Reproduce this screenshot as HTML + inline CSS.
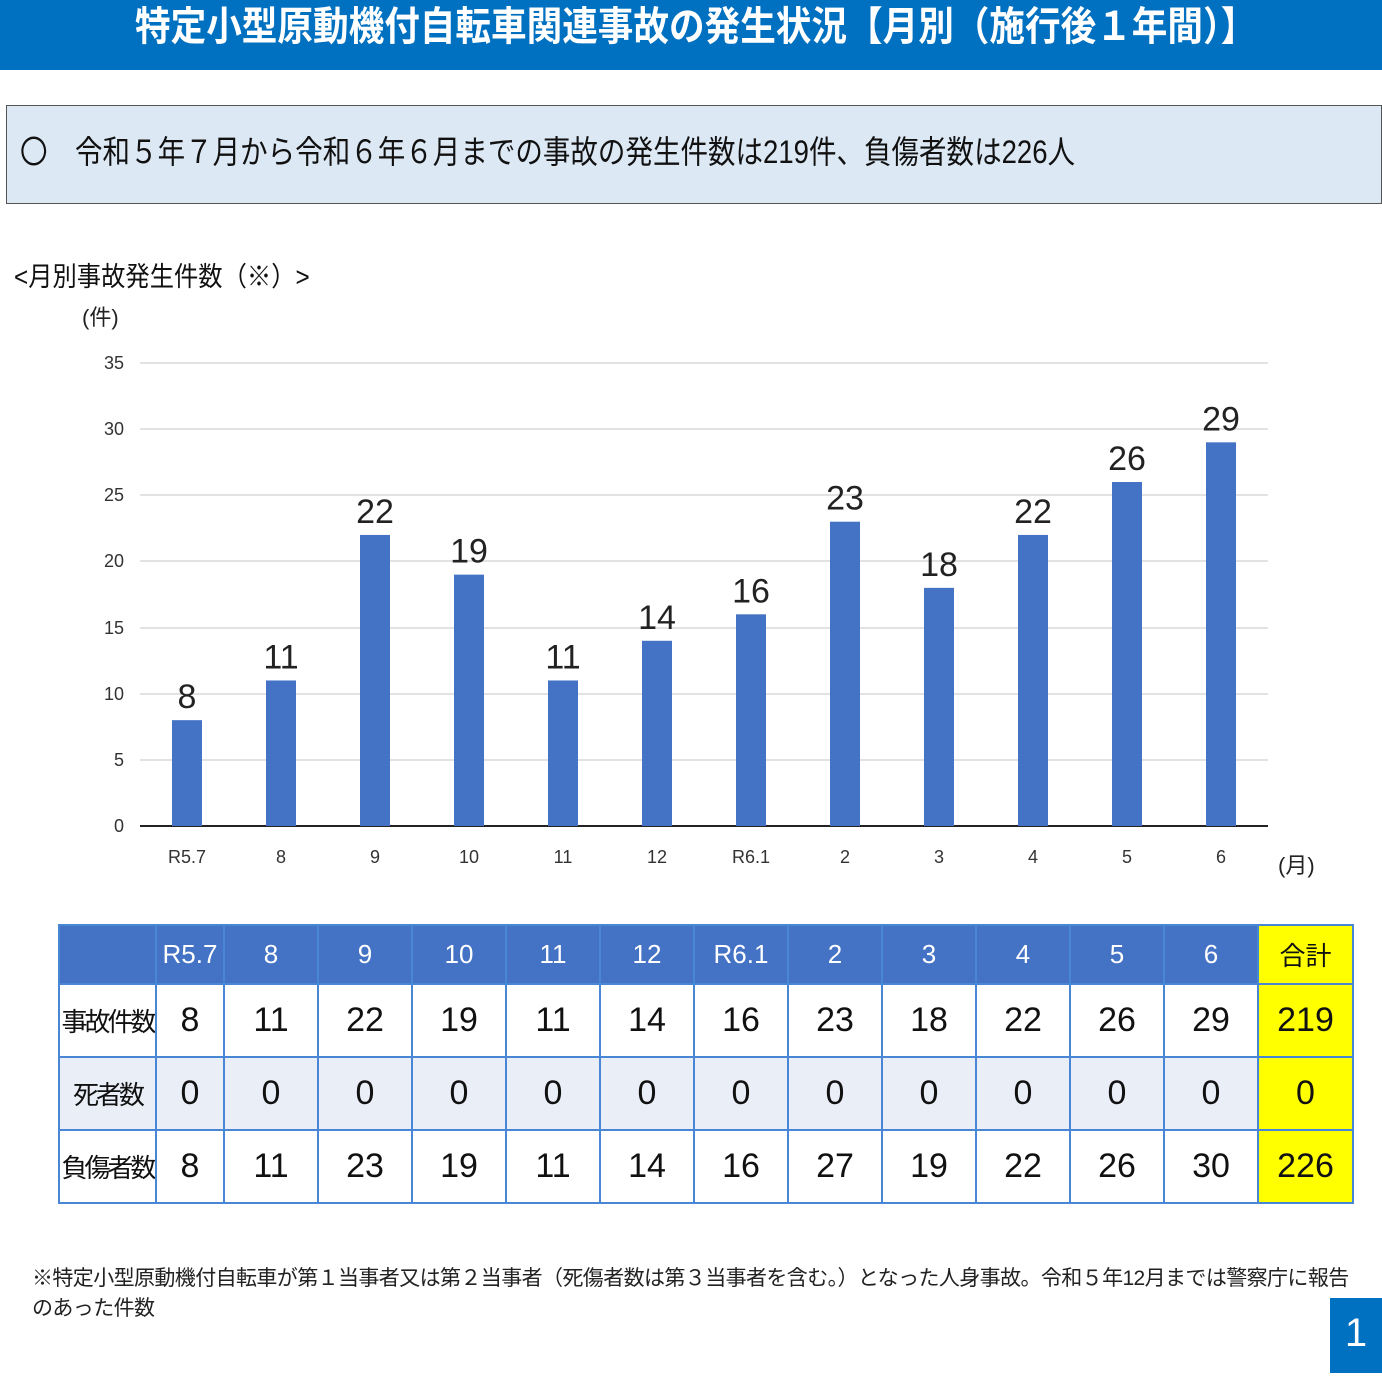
<!DOCTYPE html>
<html><head><meta charset="utf-8"><style>
body{margin:0;width:1382px;height:1382px;position:relative;background:#fff;font-family:"Liberation Sans","Noto Sans CJK JP",sans-serif;overflow:hidden}
.a{position:absolute}
table{position:absolute;left:58px;top:924px;border-collapse:collapse;table-layout:fixed}
td{border:2px solid #4a86d6;text-align:center;font-size:34px;color:#111;padding:0;white-space:nowrap;overflow:hidden}
tr.h td{background:#4472c4;color:#fff;font-size:26px;height:57px}
tr.r td{height:71px}
tr.g td{background:#e9eef7}
td.y{background:#ffff00!important;color:#111!important}
td.l{font-size:26px;letter-spacing:-3px}
</style></head><body>
<div class="a" style="left:0;top:0;width:1382px;height:70px;background:#0070c0"></div>
<div class="a" style="left:135px;top:2px;white-space:nowrap;color:#fff;font-size:40px;font-weight:bold;line-height:50px;transform:scaleX(0.89);transform-origin:left">特定小型原動機付自転車関連事故の発生状況【月別（施行後１年間）】</div>
<div class="a" style="left:6px;top:105px;width:1376px;height:99px;background:#dce8f4;border:1px solid #555;box-sizing:border-box"></div>
<div class="a" style="left:20px;top:130px;white-space:nowrap;font-size:32px;line-height:44px;color:#111;transform:scaleX(0.86);transform-origin:left">〇　令和５年７月から令和６年６月までの事故の発生件数は219件、負傷者数は226人</div>
<div class="a" style="left:14px;top:255px;white-space:nowrap;font-size:27px;color:#111;transform:scaleX(0.9);transform-origin:left">&lt;月別事故発生件数（※）&gt;</div>
<div class="a" style="left:82px;top:300px;font-size:22px;color:#222">(件)</div>
<div class="a" style="left:1278px;top:848px;font-size:22px;color:#222">(月)</div>
<svg class="a" style="left:0;top:0" width="1382" height="900">
<g stroke="#d9d9d9" stroke-width="1.5">
<line x1="140" x2="1268" y1="363" y2="363"/><line x1="140" x2="1268" y1="429" y2="429"/><line x1="140" x2="1268" y1="495" y2="495"/><line x1="140" x2="1268" y1="561" y2="561"/><line x1="140" x2="1268" y1="628" y2="628"/><line x1="140" x2="1268" y1="694" y2="694"/><line x1="140" x2="1268" y1="760" y2="760"/>
</g>
<line x1="140" x2="1268" y1="826" y2="826" stroke="#222" stroke-width="2"/>
<g font-size="18" fill="#333" text-anchor="end" font-family="Liberation Sans,sans-serif">
<text x="124" y="369">35</text><text x="124" y="435">30</text><text x="124" y="501">25</text><text x="124" y="567">20</text><text x="124" y="634">15</text><text x="124" y="700">10</text><text x="124" y="766">5</text><text x="124" y="832">0</text>
</g>
<g fill="#4472c4" id="b"></g>
<g font-size="18" fill="#333" text-anchor="middle" id="xl"></g>
<g font-size="34" fill="#222" text-anchor="middle" id="vl"></g>
</svg>
<table>
<colgroup><col style="width:97px"><col style="width:68px"><col span="11" style="width:94px"><col style="width:95px"></colgroup>
<tr class="h"><td></td><td>R5.7</td><td>8</td><td>9</td><td>10</td><td>11</td><td>12</td><td>R6.1</td><td>2</td><td>3</td><td>4</td><td>5</td><td>6</td><td class="y">合計</td></tr>
<tr class="r"><td class="l">事故件数</td><td>8</td><td>11</td><td>22</td><td>19</td><td>11</td><td>14</td><td>16</td><td>23</td><td>18</td><td>22</td><td>26</td><td>29</td><td class="y">219</td></tr>
<tr class="r g"><td class="l">死者数</td><td>0</td><td>0</td><td>0</td><td>0</td><td>0</td><td>0</td><td>0</td><td>0</td><td>0</td><td>0</td><td>0</td><td>0</td><td class="y">0</td></tr>
<tr class="r"><td class="l">負傷者数</td><td>8</td><td>11</td><td>23</td><td>19</td><td>11</td><td>14</td><td>16</td><td>27</td><td>19</td><td>22</td><td>26</td><td>30</td><td class="y">226</td></tr>
</table>
<div class="a" style="left:32px;top:1264px;width:1330px;font-size:21px;line-height:30px;color:#222;letter-spacing:-0.6px">※特定小型原動機付自転車が第１当事者又は第２当事者（死傷者数は第３当事者を含む。）となった人身事故。令和５年12月までは警察庁に報告のあった件数</div>
<div class="a" style="left:1330px;top:1298px;width:52px;height:75px;background:#0070c0;color:#fff;font-size:40px;text-align:center;line-height:70px">1</div>
<script>
var v=[8,11,22,19,11,14,16,23,18,22,26,29],l=["R5.7","8","9","10","11","12","R6.1","2","3","4","5","6"],s="",x="",t="";
for(var i=0;i<12;i++){var c=187+94*i,y=826-v[i]*13.23;
s+='<rect x="'+(c-15)+'" y="'+y+'" width="30" height="'+(826-y)+'"/>';
x+='<text x="'+c+'" y="863">'+l[i]+'</text>';
t+='<text x="'+c+'" y="'+(y-12)+'">'+v[i]+'</text>';}
document.getElementById('b').innerHTML=s;document.getElementById('xl').innerHTML=x;document.getElementById('vl').innerHTML=t;
</script>
</body></html>
